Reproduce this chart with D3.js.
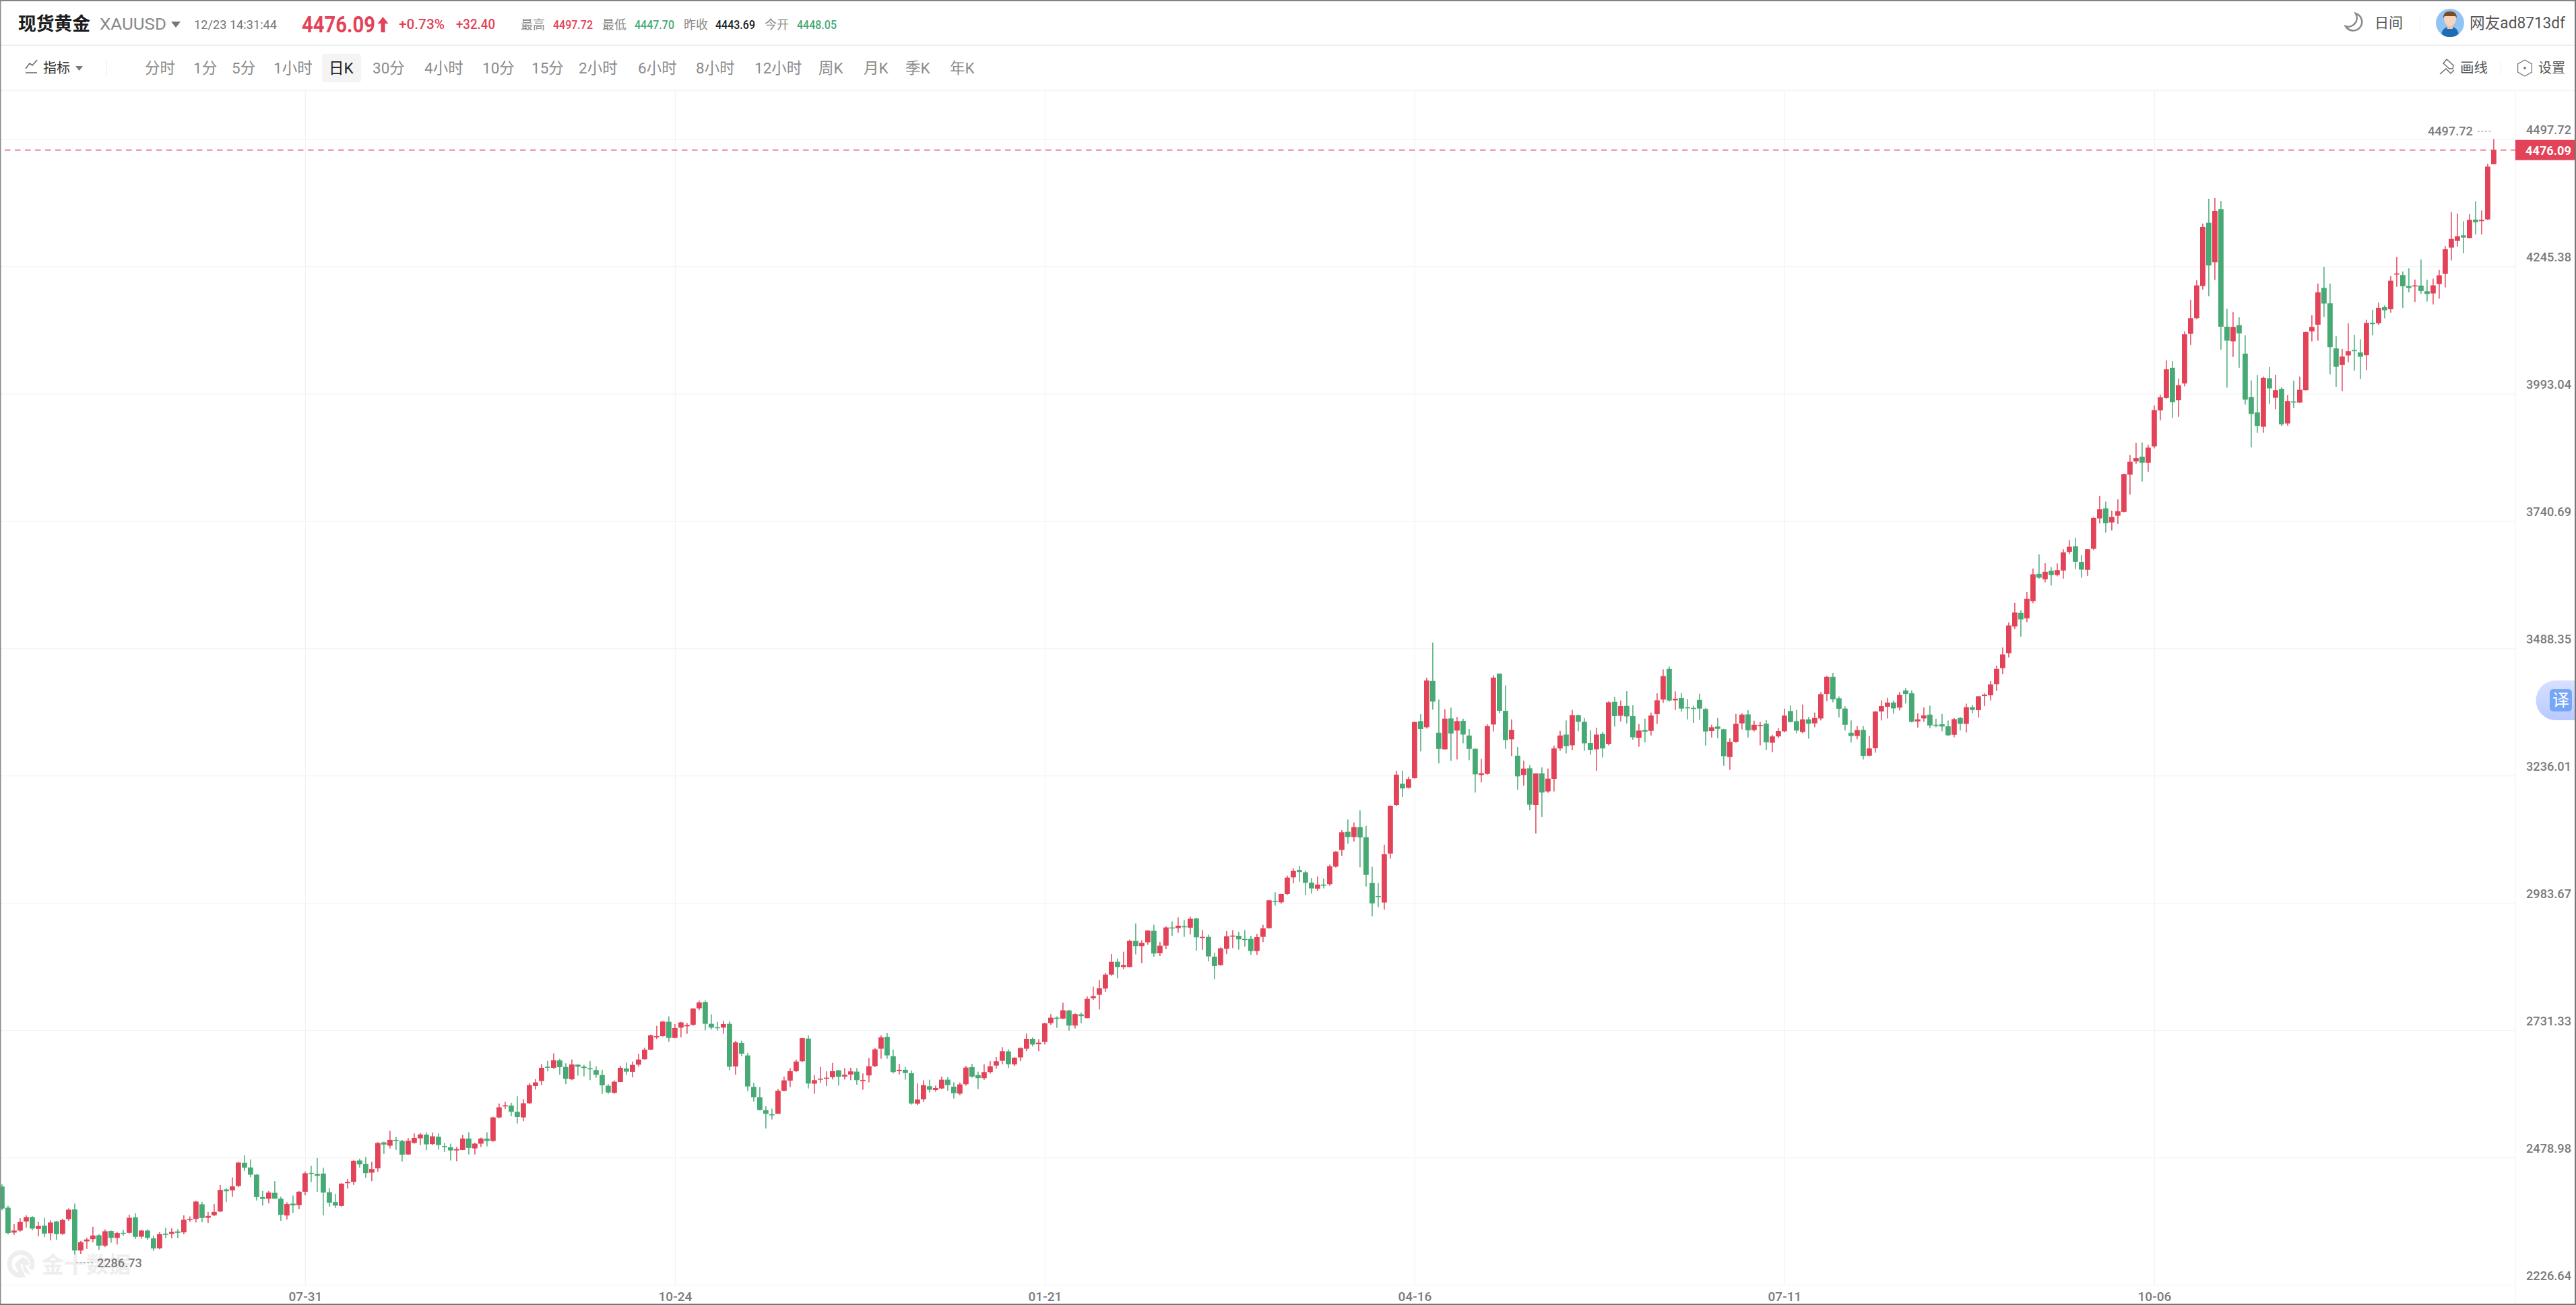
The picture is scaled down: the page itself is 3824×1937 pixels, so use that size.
<!DOCTYPE html>
<html>
<head>
<meta charset="utf-8">
<title>现货黄金 XAUUSD</title>
<script src="https://cdnjs.cloudflare.com/ajax/libs/d3/7.8.5/d3.min.js"></script>
<style>
html,body{margin:0;padding:0;background:#fff;overflow:hidden}
svg{display:block}
text{font-family:Roboto,"Noto Sans CJK SC",sans-serif}
</style>
</head>
<body>
<svg id="chart" width="3824" height="1937"></svg>
<script>
const opens = [
2421.4,2379.5,2330.2,2334.2,2352.0,2360.9,2337.7,2343.9,2328.8,2352,
2327.5,2356.9,2376,2294.6,2312.8,2317.2,2324.8,2304.3,2333.3,2319.5,
2329.7,2329.7,2360.4,2322.1,2334.2,2318.6,2299,2327.9,2327.5,2332.4,
2330.6,2356.4,2357.3,2386.2,2359.5,2364.4,2372,2415.6,2413.8,2422.7,
2468.6,2459.2,2445,2400.5,2397.3,2408.9,2397.3,2364,2387.6,2384.4,
2411.1,2448.5,2446.3,2447.2,2410.2,2390.7,2383.1,2428,2430.7,2473,
2465.9,2449,2457.4,2509,2502.4,2513.9,2511.7,2485,2507.7,2517,
2524.2,2505.5,2520.2,2501.5,2499.3,2493,2493.9,2516.6,2497,2506.4,
2516.2,2511.7,2558.4,2580.2,2582,2569.6,2558.4,2586.5,2620.7,2630.5,
2659,2656.8,2671.5,2658.6,2634.1,2663,2659,2655.9,2652.3,2642.5,
2621.2,2607.4,2628.7,2655.5,2648.8,2663,2673.7,2692.8,2719.1,2719.5,
2748,2716,2736.4,2739.1,2742.2,2774.7,2787.2,2744,2737.3,2736.4,
2744,2659.5,2706.2,2681.3,2619,2598.5,2572.7,2564.7,2565.6,2611.4,
2631.4,2650.1,2669.7,2714.6,2625.2,2633.2,2636.3,2638.1,2651.9,2639.4,
2643.4,2649.2,2631,2641.7,2660.3,2694.6,2718.2,2679.9,2650.1,2652.8,
2646.1,2585.6,2594.5,2620.3,2612.7,2615.8,2633.2,2619.4,2605.6,2624.3,
2658.1,2642.5,2636.3,2648.3,2661.2,2670.6,2689.3,2663.5,2677.3,2694.6,
2714.2,2703.5,2708,2745.4,2756.1,2754.3,2770.3,2740.5,2762.7,2755.2,
2794.8,2801.5,2813.9,2841.5,2866.9,2856.6,2856.6,2908.3,2898,2905.6,
2928.3,2883.8,2898.9,2935,2933.6,2937.6,2934.5,2952.8,2914.9,2916.3,
2877.1,2860.6,2892.7,2918,2918.5,2912.3,2912.3,2888.2,2916.3,2933.6,
2987.9,2984.8,3001.3,3034.2,3048.9,3044.4,3023.9,3011.9,3020,3020.8,
3055.6,3088.5,3124.6,3114.3,3133.9,3113.9,3023.1,2997.3,2984.4,3081.4,
3177.5,3219.8,3211.8,3230.9,3344,3331.9,3423.6,3320.8,3287.9,3349.3,
3325.3,3344.4,3315.5,3289.2,3237.2,3239.4,3337.3,3438.3,3364.4,3307.9,
3275.4,3237.2,3250.5,3177.5,3240.3,3204.7,3229.6,3290.1,3317.3,3295.9,
3356,3342.6,3300.4,3287.9,3319,3299,3382.2,3354.6,3374.2,3353.8,
3311,3326.2,3324.8,3357.8,3386.7,3447.6,3385.3,3389.8,3371.5,3370.2,
3386.2,3368,3324.4,3333.3,3327.9,3272.8,3303,3339.5,3357.3,3326.2,
3335.5,3339,3301.2,3313.7,3323.9,3364,3344,3322.6,3347.5,3339.5,
3349.3,3397.8,3431.6,3389.3,3368.9,3320.8,3314.6,3326.6,3275.4,3290.6,
3363.1,3372.4,3380.9,3370.7,3404.9,3399.1,3343.5,3349.3,3356.9,3336.8,
3337.7,3333.7,3316.8,3350.2,3338.6,3371.6,3365.8,3393.8,3395.1,3417.4,
3449,3478.8,3531.7,3558.5,3547.8,3582,3635.9,3625.2,3642.1,3633.7,
3642.6,3679.5,3690.6,3659.5,3643.9,3685.7,3745.8,3765.8,3737.8,3751.1,
3758.7,3832.6,3858.9,3868.3,3856.3,3888.7,3959.9,3984.4,4044.5,3980,
4013.3,4111.7,4142.8,4206.5,4332,4253.6,4359.1,4125.9,4097,4129,
4072.5,3986.6,3955.9,3927.5,4023.6,3984.9,4002.7,3934.1,3977.7,3975.5,
4000,4116.6,4129.9,4202.9,4172.2,4082.8,4049.8,4069,4079.6,4074.8,
4069.4,4133.9,4132.6,4164.6,4160.6,4230,4228.3,4206.5,4206,4207.4,
4196.2,4191.8,4210.5,4230.5,4282.6,4295.9,4307,4301.7,4338.2,4335.1,
4338.6,4448.05];
const highs = [
2425.8,2383.6,2347.1,2358.6,2364.4,2362.6,2351.5,2359.5,2354.6,2353.3,
2357.7,2378.2,2387.6,2313.7,2319.9,2341.7,2327,2336.4,2334.2,2331.5,
2335.5,2365.8,2368.4,2335.5,2336.8,2323.9,2331,2339.5,2338.6,2336.8,
2364.4,2362.2,2392.9,2391.1,2371.1,2386.7,2424.5,2418.3,2439.6,2470.3,
2483.7,2475.2,2445.9,2412.5,2412.5,2432,2401.4,2390.2,2403.6,2412.5,
2451.2,2462.3,2477.9,2458.7,2418.3,2407.1,2428,2436.5,2473.4,2476.6,
2480.1,2470.3,2509.5,2510.4,2531.7,2519.7,2513.9,2517.9,2526.8,2527.3,
2528.6,2528.6,2526.8,2507.7,2506.4,2500.1,2523.7,2529,2508.2,2518.4,
2529,2559.8,2586,2589.6,2587.4,2600.3,2594.9,2626.1,2634.5,2664.3,
2670.6,2685.3,2674.6,2665.7,2673.2,2663.9,2662.6,2670.1,2659.5,2652.8,
2624.3,2631.9,2660.8,2666.6,2669.2,2684.8,2696.8,2722.6,2740,2749.3,
2758.7,2743.6,2748,2745.8,2775.1,2789.8,2790.3,2762.7,2748,2750.2,
2748.9,2710.2,2710.6,2686.2,2627,2618.5,2581.1,2575.8,2615,2639.4,
2655.9,2673.2,2716,2721.3,2642.1,2658.6,2649.7,2666.6,2651.9,2656.3,
2656.8,2655.9,2645.7,2676.4,2696,2721.3,2726.2,2692.8,2664.3,2658.6,
2651.9,2626.1,2631.9,2633.2,2621.6,2639.4,2638.1,2627.9,2627.4,2660.8,
2664.8,2649.2,2663.9,2670.1,2678.1,2697.7,2693.3,2678.1,2697.3,2724.9,
2717.3,2713.7,2746.2,2763.2,2758.7,2785.9,2772.1,2765,2766.3,2798.3,
2817.5,2830.4,2845.1,2882.4,2873.5,2886.9,2910.9,2943,2909.6,2929.6,
2940.3,2906.5,2937.2,2947,2955,2949.6,2956.3,2953.6,2930.1,2920.7,
2885.1,2895.4,2927.8,2929.6,2926.5,2930.1,2918.5,2922.5,2940.3,2989.7,
3004.8,3001.7,3037.8,3052,3057.3,3047.1,3033.3,3036,3032,3059.6,
3086.8,3128.1,3149,3143.3,3167.3,3136.6,3055.1,3023.1,3099.2,3177.1,
3245.6,3245.6,3234,3343.1,3357.8,3430.3,3499.7,3386.7,3367.5,3370.7,
3352.4,3348.9,3328.4,3289.7,3269.2,3337.7,3434.7,3438.3,3414.7,3347.5,
3292.3,3265.6,3256.7,3240.3,3252.3,3250,3295.5,3324.8,3345.3,3366.2,
3356.9,3350.2,3325.7,3331,3322.6,3383.1,3392,3384.9,3403.6,3375.6,
3338.2,3348.9,3360.9,3399.1,3446.8,3452.5,3403.1,3399.6,3387.6,3374.2,
3398.2,3370.2,3336.8,3350.2,3328.8,3309.7,3358.2,3359.5,3365.8,3344.9,
3342.6,3346.2,3316.8,3330.2,3368.9,3375.1,3366.2,3376.9,3352.4,3360.9,
3401.4,3433.9,3439.2,3392.9,3373.3,3345.3,3334.2,3334.2,3314.6,3363.5,
3385.3,3390.2,3384.9,3401.8,3409.4,3404.9,3359.5,3371.1,3374.7,3348.8,
3358.2,3345.3,3350.2,3352.4,3378.7,3376.4,3393.8,3399.1,3423.2,3453.9,
3489.9,3539.8,3578.5,3563.8,3599.8,3646.6,3674.6,3657.2,3649.2,3656.8,
3684.8,3702.6,3707.5,3672.8,3685.3,3748.5,3790.7,3779.2,3761.4,3783.6,
3834.4,3871.8,3895.4,3896.3,3891.9,3969.7,3991.1,4059.2,4057.8,4023.1,
4116.6,4179.3,4218,4330.2,4379.6,4380.9,4375.1,4161.1,4154.9,4144.6,
4109,4019.6,4029.8,4027.1,4045.8,4030.3,4005.8,3990.6,4019.1,4027.1,
4116.1,4148.6,4211.4,4244.7,4211.4,4106.8,4081.9,4132.6,4109.9,4101,
4139.7,4159.3,4173.5,4168.2,4226,4264.3,4235.4,4241.6,4219.4,4259,
4218.9,4221.1,4238.5,4285.7,4353.3,4350.2,4335.1,4348.9,4374.2,4356.4,
4449,4497.72];
const lows = [
2374.6,2326.6,2325.7,2331.9,2339.9,2334.6,2322.6,2321.2,2314.6,2315.9,
2325.7,2353.3,2286.73,2287.9,2297.7,2311,2295.9,2301.2,2310.1,2306.6,
2323.9,2327.9,2317.7,2318.1,2315.9,2293.7,2296.8,2319,2318.6,2319,
2326.6,2351.1,2350.2,2350.6,2349.3,2362.6,2370.6,2391.1,2400.9,2420,
2452.1,2440,2393.8,2383.6,2388,2396.9,2353.3,2356,2369.3,2376.4,
2404,2430.3,2410.7,2364.4,2381.3,2379.1,2381.3,2417.4,2424.5,2458.7,
2438.7,2432,2450.7,2485.9,2497,2493.9,2470.8,2484.1,2506.4,2503.7,
2493.5,2503.7,2494.4,2489.9,2473,2471.7,2493.5,2485,2485,2499.7,
2501,2510.4,2556.6,2574.9,2560.7,2546.4,2550.9,2584.7,2613.6,2622.5,
2649.7,2654.6,2643,2624.3,2632.3,2641.2,2639.9,2632.3,2637.2,2604.7,
2605.2,2605.2,2628.3,2642.5,2637.6,2658.6,2672.8,2691.9,2713.7,2718.6,
2708.4,2715.1,2717.3,2724,2740,2770.7,2731.1,2732.9,2730.6,2724,
2652.3,2643,2679.9,2610.5,2589.6,2572.2,2536.6,2554.4,2565.6,2610,
2618.5,2648.3,2668.3,2615.8,2605.2,2627,2620.7,2633.6,2621.6,2633.6,
2632.3,2623.4,2613.2,2627.9,2658.1,2674.6,2674.6,2645.7,2643.4,2633.2,
2583.8,2582.9,2589.1,2607.8,2609.6,2614.5,2611.4,2595.8,2602.5,2621.2,
2637.2,2614.5,2632.8,2645.2,2655,2663.9,2656.3,2659.9,2669.7,2689.7,
2699.1,2689.7,2703,2741.8,2736,2753.4,2730.3,2734.7,2744.9,2755.2,
2791.2,2772.5,2807.2,2839.3,2834,2852.2,2856.2,2881.6,2864.2,2900.7,
2876.7,2878.4,2891.8,2918.5,2924.3,2916.3,2921.2,2888.7,2890.5,2867.8,
2832.6,2858.9,2882,2894,2890.9,2896.7,2880.7,2880.7,2906,2932.7,
2978.1,2982.1,2999.5,3022.6,3025.7,2999.5,3002.2,3007.5,3012.4,3017.7,
3053.8,3076.9,3101,3105,3054.3,3016,2956.8,2975.1,2970.2,3071.6,
3175.8,3193.6,3210.5,3230,3283.9,3329.3,3366.7,3260.3,3287.9,3265.2,
3267.9,3299.9,3266.5,3202.4,3222.5,3238,3323.5,3360,3289.2,3274.5,
3207.8,3215.8,3167.7,3121,3153.9,3202,3204.7,3285.2,3279.9,3286.6,
3323.9,3285.2,3277.2,3245.2,3271.9,3295.9,3333.3,3343.5,3339.5,3307,
3293.2,3301.7,3315.5,3338.6,3380,3382.7,3366.2,3362.7,3347.5,3340.4,
3346.6,3295.5,3311.5,3310.1,3255.4,3247.4,3301.2,3327.5,3311.5,3323.5,
3295.9,3287,3282.6,3310.6,3321.7,3341.3,3320,3320,3309.3,3331.9,
3345.3,3383.6,3381.3,3351.5,3325.3,3301.7,3307.9,3267.9,3274.1,3281.7,
3345.3,3349.3,3358.6,3365.3,3379.1,3341.3,3331.1,3342.6,3329.7,3332,
3323.9,3314.6,3311.9,3325.3,3321.3,3360,3351.1,3373.8,3384.9,3404,
3437.4,3470.3,3526.4,3511.3,3540.2,3577.6,3626.5,3619,3613.2,3631,
3626.5,3675,3645.7,3628.3,3631.9,3683,3736,3717.8,3721.8,3734.7,
3757.8,3793,3853.6,3819,3838,3884.7,3940.4,3983.1,3944.8,3947,
4007.6,4089.9,4140.6,4199.4,4186.4,4218.5,4080.5,4004.9,4065.9,4044.5,
3971.5,3886.5,3915.4,3915.4,3972.4,3962.2,3928.8,3929.7,3964.4,3975.5,
3999.5,4096.6,4098.3,4145.1,4031.6,4006.6,3998.2,4055.2,4038.3,4022.2,
4040,4109,4129.5,4142.4,4153.5,4205.1,4163.3,4194,4174.9,4191.3,
4175.8,4170,4181.5,4203.8,4257.2,4284.8,4271.4,4301.3,4308.8,4308.8,
4337.3,4447.7];
const closes = [
2377.8,2329.3,2334.2,2351.1,2360.9,2338.2,2343.1,2327.9,2350.2,2327,
2355.1,2375.5,2294.6,2311,2316.4,2324.4,2304.3,2332.8,2319.5,2329.3,
2328.8,2359.5,2321.7,2334.2,2319.5,2298.6,2327,2326.6,2331.5,2329.7,
2355.5,2357.3,2391.6,2359.1,2363.1,2371.1,2414.7,2412,2421.8,2469,
2458.7,2444.9,2400.5,2396.9,2409.4,2397.3,2365.3,2386.7,2384,2411.1,
2447.6,2446.7,2442.7,2409.4,2389.3,2383.6,2427.2,2430.7,2472.5,2465.4,
2448.1,2456.1,2507.7,2504.6,2513.9,2512.6,2484.6,2512.2,2517.9,2524.6,
2505,2521,2503.7,2499.7,2493,2495.7,2516.6,2497.9,2506.4,2516.6,
2511.7,2558.4,2578.5,2582.5,2569.6,2559.3,2586.5,2622.5,2627.9,2656.8,
2658.1,2671.9,2658.1,2635,2663.5,2659,2656.3,2653.7,2643,2622,
2607.8,2629.2,2656.8,2649.2,2662.6,2673.2,2692.8,2721.3,2719.5,2748.4,
2716,2735.6,2746.7,2741.8,2774.3,2786.3,2744,2736.4,2736,2743.6,
2659,2707.1,2684.8,2619.8,2598.5,2573.1,2565.6,2562.9,2611.4,2631.9,
2650.1,2669.2,2715.5,2625.6,2632.3,2635.4,2637.2,2650.1,2639,2643,
2649.7,2632.3,2632.7,2659.9,2693.3,2717.3,2681.3,2648.3,2652.8,2646.5,
2586,2594,2622.5,2613.2,2616.7,2633.2,2622.5,2606.5,2623.9,2657.2,
2639.4,2636.3,2648.3,2659.9,2669.7,2689.7,2663.9,2676.8,2695.9,2714.2,
2703,2706.6,2744.9,2756.1,2754.7,2770.8,2740.5,2763.2,2759.2,2793.4,
2798.8,2814.4,2841.5,2866.9,2856.6,2860.6,2908.3,2898,2904.3,2928.7,
2883.3,2898.9,2935,2933.2,2938.5,2936.3,2952.3,2915.4,2916.3,2877.6,
2858.4,2893.6,2917.6,2918.9,2911.4,2911.4,2888.2,2915.8,2933.2,2988.8,
2986.1,3001.3,3033.8,3047.1,3044.9,3023.5,3012.4,3020,3019.1,3056.4,
3085,3123.7,3114.3,3133.9,3113.4,3039.1,2982.6,2996.9,3080,3176.2,
3238,3210.5,3229.2,3342.2,3328.4,3424.5,3382.7,3288.8,3348.9,3319.5,
3344,3317.3,3288.8,3238.5,3240.7,3334.2,3430.3,3364.4,3306.6,3326.6,
3234.5,3250,3178.4,3240.3,3202.5,3230,3290.1,3315.5,3294.6,3356,
3342.6,3299.9,3287,3317.3,3290.1,3381.3,3353.8,3373.8,3353.3,3311.9,
3325.3,3323,3355.1,3385.3,3433.4,3384.9,3388.5,3368.9,3370.7,3368.9,
3368.9,3323.5,3331.9,3328.8,3274.5,3303,3338.6,3356.9,3325.7,3336.8,
3336.4,3302.1,3313.7,3324.4,3355.1,3342.2,3325.3,3347.5,3339,3350.2,
3397.4,3431.6,3387.1,3368.4,3336.8,3314.6,3326.2,3275,3290.1,3363.1,
3373.8,3380.9,3369.3,3396,3397.8,3342.6,3347.5,3355.5,3335.5,3336,
3333.3,3315.9,3347.9,3338.6,3371.6,3366.2,3393.3,3396.5,3416.9,3447.6,
3476.1,3533.5,3559.3,3545.6,3586.5,3635,3628.3,3639.9,3633.7,3643.4,
3678.6,3689.7,3659.9,3644.3,3684.8,3746.7,3764,3736.5,3748.9,3760,
3833.5,3858,3865.2,3856.3,3886.1,3960.4,3986.2,4041.4,3976,4009.8,
4110.8,4142.8,4207.8,4323.5,4247.4,4355.5,4125.9,4098.3,4125.5,4112.6,
3981.3,3952.8,3929.2,4024.5,4003.6,4000,3932.4,3978.6,3976.9,4000.9,
4115.2,4125.5,4194,4171.8,4085.4,4046.3,4066.7,4077.4,4077.4,4066.3,
4133.5,4130.8,4163.3,4158.4,4217.1,4231.4,4206,4202.9,4207.8,4196.7,
4190.9,4207.8,4227.8,4279.4,4299.9,4305.3,4302.6,4337.7,4332.9,4337.7,
4443.2,4476.09];

const priceTicks = [4497.72,4245.38,3993.04,3740.69,3488.35,3236.01,2983.67,2731.33,2478.98,2226.64];
const dateTicks = ['07-31','10-24','01-21','04-16','07-11','10-06'];
const dateTickIndex = [50,111,172,233,294,355];
const periods = ['分时','1分','5分','1小时','日K','30分','4小时','10分','15分','2小时','6小时','8小时','12小时','周K','月K','季K','年K'];

const red = '#e34358', green = '#47aa75', gridCol = '#f3f3f3';
const axisX = 3734, plotTop = 135, plotBottom = 1907;
const periodLeft = [215,287,344,406,488,553,630,716,789,859,947,1033,1120,1215,1282,1344,1410];
const svg = d3.select('#chart');

const x = d3.scaleLinear().domain([0, opens.length-1]).range([2.9, 3701.9]);
const y = d3.scaleLinear().domain([2226.64, 4497.72]).range([plotBottom, 206.5]);

function txt(g, s, px, py, size, fill, opt){
    opt = opt || {};
    let t = g.append('text').attr('x',px).attr('y',py)
        .attr('font-size',size).attr('fill',fill)
        .attr('dominant-baseline','central')
        .text(s);
    if(opt.anchor) t.attr('text-anchor',opt.anchor);
    if(opt.weight) t.attr('font-weight',opt.weight);
    if(opt.len) t.attr('textLength',opt.len).attr('lengthAdjust','spacingAndGlyphs');
    return t;
}

//fond du graphique : axes et grille
const gridY = svg.append('g').attr('transform',`translate(${axisX},0)`)
    .call(d3.axisLeft(y).tickValues(priceTicks).tickSize(axisX).tickFormat(d3.format('.2f')));
gridY.select('.domain').remove();
gridY.selectAll('line').attr('stroke',gridCol).attr('stroke-width',1.2);
gridY.selectAll('text').attr('x',83).attr('dy',-14.5).attr('dominant-baseline','central').attr('text-anchor','end')
    .attr('font-size',19).attr('fill','#7a7a7a').attr('font-family','Roboto').attr('font-weight',500)
    .attr('textLength',67).attr('lengthAdjust','spacingAndGlyphs');

const gridX = svg.append('g').attr('transform',`translate(0,${plotBottom})`)
    .call(d3.axisBottom(x).tickValues(dateTickIndex).tickSize(-(plotBottom-plotTop)).tickFormat((d,i)=>dateTicks[i]));
gridX.select('.domain').remove();
gridX.selectAll('line').attr('stroke',gridCol).attr('stroke-width',1.2);
gridX.selectAll('text').attr('y',17).attr('dy',0).attr('dominant-baseline','central')
    .attr('font-size',19).attr('fill','#7a7a7a').attr('font-family','Roboto').attr('font-weight',500);

svg.append('line').attr('x1',axisX).attr('x2',axisX).attr('y1',plotTop).attr('y2',1937)
    .attr('stroke',gridCol).attr('stroke-width',1.2);

//filigrane
const wm = svg.append('g');
wm.append('path').attr('d','M46 1884 A17 17 0 1 0 33 1893 L26 1877 L34 1870 A9 9 0 0 1 40 1878')
    .attr('fill','none').attr('stroke','#eeeeee').attr('stroke-width',7);
wm.append('path').attr('d','M32 1870 L46 1893 L36 1888 Z').attr('fill','#eeeeee');
txt(wm,'金十数据',62,1877,33,'#eeeeee',{weight:700,len:132});

//chandeliers
const candles = svg.append('g').selectAll('g').data(d3.range(opens.length)).enter().append('g')
    .attr('fill',i=>closes[i]>=opens[i]?red:green);
candles.append('rect')
    .attr('x',i=>x(i)-0.9).attr('width',1.8)
    .attr('y',i=>y(highs[i])).attr('height',i=>y(lows[i])-y(highs[i]))
    .attr('fill-opacity',0.82);
candles.append('rect')
    .attr('x',i=>x(i)-3.9).attr('width',7.8)
    .attr('y',i=>y(Math.max(opens[i],closes[i])))
    .attr('height',i=>Math.max(1.6,Math.abs(y(opens[i])-y(closes[i]))));

//dernier prix
const last = closes[closes.length-1];
svg.append('line').attr('x1',7).attr('x2',axisX).attr('y1',y(last)).attr('y2',y(last))
    .attr('stroke','#df5c70').attr('stroke-width',1.6).attr('stroke-dasharray','8.5 6.5');
svg.append('rect').attr('x',axisX).attr('y',y(last)-15).attr('width',90).attr('height',30).attr('fill',red);
txt(svg,d3.format('.2f')(last),3817,y(last)+0.5,19,'#fff',{anchor:'end',weight:700,len:68});

//plus haut, plus bas
const hiIdx = d3.maxIndex(highs), loIdx = d3.minIndex(lows);
txt(svg,d3.format('.2f')(highs[hiIdx]),x(hiIdx)-31,194,19,'#7a7a7a',{anchor:'end',weight:500,len:67});
svg.append('line').attr('x1',x(hiIdx)-24).attr('x2',x(hiIdx)-3).attr('y1',195).attr('y2',195)
    .attr('stroke','#8a8a8a').attr('stroke-width',1.2).attr('stroke-dasharray','3 2.5');
svg.append('line').attr('x1',x(loIdx)+2).attr('x2',x(loIdx)+28).attr('y1',1874).attr('y2',1874)
    .attr('stroke','#8a8a8a').attr('stroke-width',1.2).attr('stroke-dasharray','3 2.5');
txt(svg,d3.format('.2f')(lows[loIdx]),x(loIdx)+33,1874,19,'#7a7a7a',{weight:500,len:67});

//en-tête
const head = svg.append('g');
head.append('rect').attr('width',3824).attr('height',133).attr('fill','#fff');
head.append('rect').attr('y',133).attr('width',3824).attr('height',2.5).attr('fill','#f7f7f7');
head.append('rect').attr('y',66.5).attr('width',3824).attr('height',1.3).attr('fill','#e9e9e9');
txt(head,'现货黄金',27,36,27,'#1c1c1c',{weight:700,len:107});
txt(head,'XAUUSD',148,36,24,'#888',{len:99});
head.append('path').attr('d','M254 32 h14 l-7 9 z').attr('fill','#777');
txt(head,'12/23 14:31:44',288,36,19,'#777',{len:123});
txt(head,'4476.09',448,36,33,red,{weight:700,len:109});
head.append('path').attr('d','M568.5 25 l8 10 h-5 v13 h-6 v-13 h-5 z').attr('fill',red);
txt(head,'+0.73%',592,36,20,red,{weight:500,len:68});
txt(head,'+32.40',677,36,20,red,{weight:500,len:58});
const stats = [['最高','4497.72',773,821,red],['最低','4447.70',894,942,green],['昨收','4443.69',1015,1062,'#222'],['今开','4448.05',1135,1183,green]];
stats.forEach(s=>{
    txt(head,s[0],s[2],36,18,'#8a8a8a');
    txt(head,s[1],s[3],36,18,s[4],{weight:500,len:59});
});

//barre d'outils
head.append('path').attr('d','M38 108 h17 M38 102 l6 -8 l4 3 l7 -8').attr('fill','none').attr('stroke','#666').attr('stroke-width',1.6);
txt(head,'指标',64,101,20,'#333');
head.append('path').attr('d','M112 98 h11 l-5.5 7 z').attr('fill','#777');
head.append('rect').attr('x',158).attr('y',90).attr('width',1).attr('height',22).attr('fill','#eee');
head.append('rect').attr('x',478).attr('y',80).attr('width',58).attr('height',42).attr('rx',4).attr('fill','#f4f4f4');
periods.forEach((p,i)=>{
    txt(head,p,periodLeft[i],101,22.5,p=='日K'?'#1e1e1e':'#8b8b8b');
});

//à droite
const moon = head.append('g').attr('transform','translate(3495,33)');
moon.append('path').attr('d','M2 -13 A13 13 0 1 1 -13 6 A13 13 0 0 0 2 -13 Z').attr('fill','none').attr('stroke','#8a8a8a').attr('stroke-width',2.6);
txt(head,'日间',3525,34,21,'#555');
head.append('rect').attr('x',3592).attr('y',23).attr('width',1).attr('height',22).attr('fill','#eee');
const av = head.append('g').attr('transform','translate(3637,34)');
av.append('circle').attr('r',21).attr('fill','#92c3f5');
av.append('clipPath').attr('id','avc').append('circle').attr('r',21);
const avIn = av.append('g').attr('clip-path','url(#avc)');
avIn.append('path').attr('d','M-13 21 Q-13 8 -4 6 L4 6 Q13 8 13 21 Z').attr('fill','#1d6db5');
avIn.append('rect').attr('x',-4).attr('y',0).attr('width',8).attr('height',9).attr('fill','#f0c8a8');
avIn.append('ellipse').attr('cy',-6).attr('rx',9).attr('ry',11).attr('fill','#f6d5bc');
avIn.append('path').attr('d','M-10 -7 Q-10 -18 0 -17 Q10 -18 10 -7 L8 -10 L-8 -10 Z').attr('fill','#7a4a26');
txt(head,'网友ad8713df',3666,34,23,'#555',{len:142});

const pen = head.append('g').attr('fill','none').attr('stroke','#666').attr('stroke-width',1.4);
pen.append('path').attr('d','M3622 110 l9 -8 l7 7 l5 -5');
pen.append('path').attr('d','M3627 94 l5 -6 l10 9 l-1 5 l-5 0 z');
txt(head,'画线',3652,101,20.5,'#555');
head.append('rect').attr('x',3712).attr('y',91).attr('width',1).attr('height',20).attr('fill','#eee');
const hexR = 12;
head.append('path').attr('d',d3.line()(d3.range(7).map(k=>[3748+hexR*Math.sin(k*Math.PI/3),101-hexR*Math.cos(k*Math.PI/3)])))
    .attr('fill','none').attr('stroke','#777').attr('stroke-width',1.3);
head.append('circle').attr('cx',3748).attr('cy',101).attr('r',1.8).attr('fill','#666');
txt(head,'设置',3768,101,20,'#555');

//bouton de traduction
const defs = svg.append('defs');
const grad = defs.append('linearGradient').attr('id','pill').attr('x1',0).attr('x2',0).attr('y1',0).attr('y2',1);
grad.append('stop').attr('offset',0).attr('stop-color','#d6e1ff');
grad.append('stop').attr('offset',1).attr('stop-color','#b9c9ff');
svg.append('path').attr('d','M3824 1010 H3794 A29.5 29.5 0 0 0 3794 1069 H3824 Z').attr('fill','url(#pill)');
svg.append('rect').attr('x',3785).attr('y',1023).attr('width',33).attr('height',33).attr('rx',5).attr('fill','#78a6f6');
txt(svg,'译',3801.5,1039,25,'#fff',{anchor:'middle'});

//bord de fenêtre
svg.append('rect').attr('width',3824).attr('height',1.6).attr('fill','#777');
svg.append('rect').attr('width',1.4).attr('height',1937).attr('fill','#888');
svg.append('rect').attr('x',3822).attr('width',2).attr('height',1937).attr('fill','#777');
svg.append('rect').attr('y',1935).attr('width',3824).attr('height',2).attr('fill','#777');
</script>
</body>
</html>
